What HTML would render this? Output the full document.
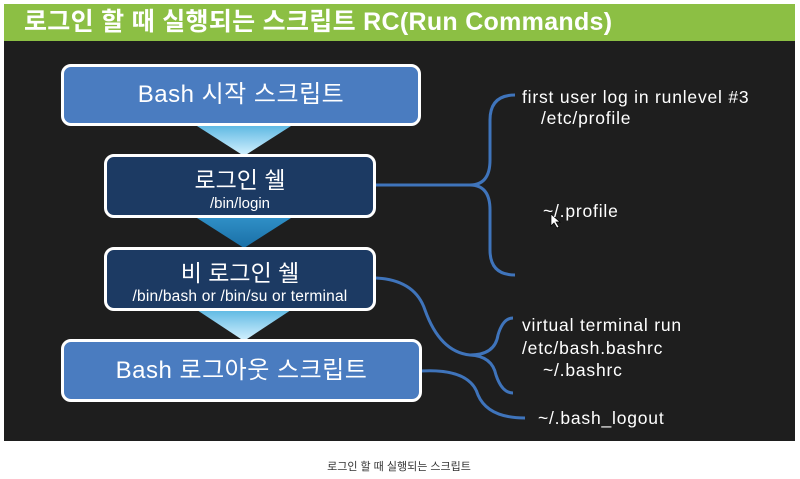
<!DOCTYPE html>
<html><head><meta charset="utf-8"><style>
body{margin:0;width:800px;height:479px;background:#fff;position:relative;overflow:hidden;font-family:"Liberation Sans","Noto Sans CJK KR",sans-serif}
.hdr{position:absolute;left:4px;top:4px;width:791px;height:37px;background:#8cbf44;color:#fff;font-size:25px;font-weight:bold;line-height:37px;padding-left:20px;box-sizing:border-box;letter-spacing:0.3px}
.dark{position:absolute;left:4px;top:41px;width:791px;height:400px;background:#1e1e1e}
.box{position:absolute;border:3px solid #fff;border-radius:10px;box-sizing:border-box;color:#fff;text-align:center;white-space:nowrap}
.l{background:#4a7cc0}.d{background:#1c3a63}
.t{position:absolute;color:#fff;font-size:17.5px;white-space:nowrap;letter-spacing:0.8px}
.cap{position:absolute;top:458px;left:0;width:798px;text-align:center;font-size:11px;color:#333}
</style></head><body>
<div class="hdr">로그인 할 때 실행되는 스크립트 RC(Run Commands)</div>
<div class="dark"></div>
<svg style="position:absolute;left:0;top:0" width="800" height="479">
<defs><linearGradient id="g1" x1="0" y1="0" x2="0" y2="1"><stop offset="0" stop-color="#5fb9e3"/><stop offset="1" stop-color="#d6f2ff"/></linearGradient>
<linearGradient id="g2" x1="0" y1="0" x2="0" y2="1"><stop offset="0" stop-color="#2f8fc6"/><stop offset="1" stop-color="#1a6fa6"/></linearGradient></defs>
<polygon points="197,126 291,126 244,156" fill="url(#g1)"/>
<polygon points="197,218 291,218 244,248" fill="url(#g2)"/>
<polygon points="197,310 291,310 244,341" fill="url(#g1)"/>
<g fill="none" stroke="#3f74bb" stroke-width="3">
<path d="M376,185 L470,185 Q490,185 490,160 L490,120 Q490,95 515,95"/>
<path d="M470,185 Q490,185 490,210 L490,250 Q490,275 515,275"/>
<path d="M376,278 Q415,280 425,310 Q440,352 470,355 Q495,355 498,335 Q503,318 513,318"/>
<path d="M470,355 Q492,356 496,375 Q502,393 513,393"/>
<path d="M420,371 Q470,368 478,395 Q488,418 525,418"/>
</g>
<path d="M551,214 L551,226 L554,223 L557,228 L559,227 L556,222 L560,222 Z" fill="#fff" stroke="#000" stroke-width="0.7"/>
</svg>
<div class="box l" style="left:61px;top:64px;width:360px;height:62px;font-size:24px;line-height:56px;letter-spacing:0.5px">Bash 시작 스크립트</div>
<div class="box d" style="left:104px;top:154px;width:272px;height:64px"><div style="font-size:23px;margin-top:4px">로그인 쉘</div><div style="font-size:15px">/bin/login</div></div>
<div class="box d" style="left:104px;top:247px;width:272px;height:64px"><div style="font-size:23px;margin-top:4px">비 로그인 쉘</div><div style="font-size:15.5px;letter-spacing:0.2px">/bin/bash or /bin/su or terminal</div></div>
<div class="box l" style="left:61px;top:339px;width:361px;height:63px;font-size:24px;line-height:57px;letter-spacing:0.5px">Bash 로그아웃 스크립트</div>
<div class="t" style="left:522px;top:87px">first user log in runlevel #3</div>
<div class="t" style="left:541px;top:108px">/etc/profile</div>
<div class="t" style="left:543px;top:201px">~/.profile</div>
<div class="t" style="left:522px;top:315px">virtual terminal run</div>
<div class="t" style="left:522px;top:338px">/etc/bash.bashrc</div>
<div class="t" style="left:543px;top:360px">~/.bashrc</div>
<div class="t" style="left:538px;top:408px">~/.bash_logout</div>
<div class="cap">로그인 할 때 실행되는 스크립트</div>
</body></html>
